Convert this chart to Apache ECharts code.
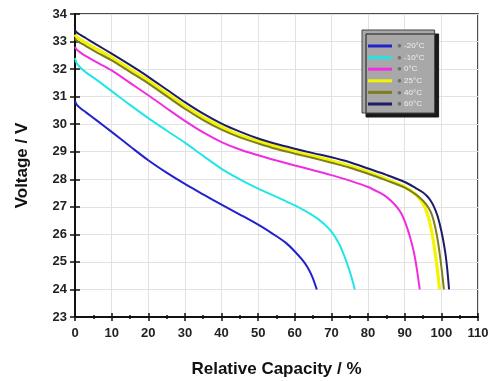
<!DOCTYPE html>
<html><head><meta charset="utf-8">
<script src="https://cdn.jsdelivr.net/npm/echarts@6/dist/echarts.min.js"></script>
<style>html,body{margin:0;padding:0;background:#fff}#c{width:498px;height:381px}</style>
</head><body><div id="c"></div>
<script>
const seriesNames = ['-20°C', '-10°C', '0°C', '25°C', '40°C', '60°C'];
const seriesColors = ['#2222cc', '#22e6e6', '#f02ee0', '#f4f400', '#7e7e1e', '#1c1c6a'];
const xTicks = [0, 10, 20, 30, 40, 50, 60, 70, 80, 90, 100, 110];
const yTicks = [23, 24, 25, 26, 27, 28, 29, 30, 31, 32, 33, 34];

const capM20  = [0, 0.5, 1.5, 3, 6, 10, 15, 20, 25, 30, 35, 40, 45, 50, 54, 57.5, 60, 62, 63.5, 64.8, 66];
const voltM20 = [30.85, 30.7, 30.58, 30.43, 30.13, 29.72, 29.2, 28.69, 28.24, 27.83, 27.45, 27.08, 26.72, 26.35, 26.02, 25.7, 25.38, 25.08, 24.8, 24.45, 24.0];

const capM10  = [0, 0.5, 1.5, 3, 6, 10, 15, 20, 25, 30, 35, 40, 45, 50, 55, 60, 65, 68, 70, 72, 73.5, 75, 76.4];
const voltM10 = [32.4, 32.2, 32.05, 31.88, 31.6, 31.2, 30.7, 30.22, 29.77, 29.33, 28.85, 28.38, 28.0, 27.66, 27.36, 27.05, 26.68, 26.38, 26.1, 25.68, 25.22, 24.65, 24.0];

const cap0  = [0, 0.5, 1.5, 3, 6, 10, 15, 20, 25, 30, 35, 40, 45, 50, 55, 60, 65, 70, 75, 80, 83, 85, 87, 88.5, 89.5, 90.5, 91.5, 92.5, 93.3, 94.1];
const volt0 = [32.8, 32.7, 32.6, 32.47, 32.24, 31.95, 31.5, 31.05, 30.58, 30.12, 29.7, 29.35, 29.08, 28.87, 28.68, 28.5, 28.33, 28.15, 27.95, 27.72, 27.52, 27.36, 27.12, 26.88, 26.64, 26.3, 25.88, 25.35, 24.75, 24.0];

const cap25  = [0, 0.5, 1.5, 3, 6, 10, 15, 20, 25, 30, 35, 40, 45, 50, 55, 60, 65, 70, 75, 80, 85, 90, 93, 94.5, 95.5, 96.5, 97.3, 98, 98.6, 99.1, 99.5];
const volt25 = [33.25, 33.16, 33.07, 32.95, 32.72, 32.42, 32.0, 31.58, 31.12, 30.66, 30.25, 29.9, 29.6, 29.38, 29.18, 29.0, 28.84, 28.67, 28.48, 28.26, 28.0, 27.72, 27.45, 27.22, 26.98, 26.6, 26.15, 25.6, 25.05, 24.5, 24.0];

const cap40  = [0, 0.5, 1.5, 3, 6, 10, 15, 20, 25, 30, 35, 40, 45, 50, 55, 60, 65, 70, 75, 80, 85, 90, 93, 95, 96, 97, 97.8, 98.8, 99.6, 100.2, 100.7];
const volt40 = [33.12, 33.03, 32.95, 32.83, 32.6, 32.32, 31.9, 31.48, 31.02, 30.56, 30.15, 29.8, 29.52, 29.3, 29.1, 28.93, 28.77, 28.6, 28.42, 28.2, 27.96, 27.7, 27.45, 27.22, 27.06, 26.84, 26.55, 25.95, 25.25, 24.6, 24.0];

const cap60  = [0, 0.5, 1.5, 3, 6, 10, 15, 20, 25, 30, 35, 40, 45, 50, 55, 60, 65, 70, 75, 80, 85, 90, 93, 95, 96, 97, 98, 99, 100, 101, 101.6, 102.1];
const volt60 = [33.42, 33.33, 33.24, 33.12, 32.88, 32.56, 32.15, 31.72, 31.26, 30.8, 30.38, 30.02, 29.73, 29.48, 29.28, 29.11, 28.95, 28.8, 28.62, 28.39, 28.16, 27.9, 27.68, 27.52, 27.4, 27.24, 27.0, 26.65, 26.12, 25.4, 24.75, 24.0];

const caps = [capM20, capM10, cap0, cap25, cap40, cap60];
const volts = [voltM20, voltM10, volt0, volt25, volt40, volt60];

function zip(xs, ys) { return xs.map((x, i) => [x, ys[i]]); }

const chart = echarts.init(document.getElementById('c'), null, {renderer: 'canvas'});
const font = 'Liberation Sans, Arial, sans-serif';

const series = seriesNames.map((n, i) => ({
  name: n, type: 'line', data: zip(caps[i], volts[i]),
  smooth: 0.3, showSymbol: false, symbol: 'none',
  lineStyle: {color: seriesColors[i], width: i === 3 ? 3.2 : 2},
  itemStyle: {color: seriesColors[i]},
  z: 3 + i
}));

const axisCommon = {
  axisLine: {show: true, onZero: false, lineStyle: {color: '#111', width: 2}},
  splitLine: {show: true, lineStyle: {color: '#e2e2e2', width: 1}},
};

chart.setOption({
  animation: false,
  backgroundColor: '#fff',
  grid: {left: 75, right: 20, top: 14, bottom: 64, containLabel: false, outerBoundsMode: 'none',
    show: true, borderColor: '#111', borderWidth: 1.5, backgroundColor: 'transparent'},
  legend: {
    orient: 'vertical', left: 362, top: 30,
    data: seriesNames,
    icon: 'rect', itemWidth: 24, itemHeight: 3, itemGap: 3.6,
    backgroundColor: '#a8a8a8', borderColor: '#444', borderWidth: 1,
    shadowColor: '#1a1a1a', shadowOffsetX: 4, shadowOffsetY: 4, shadowBlur: 0,
    padding: [12, 10, 5, 6],
    formatter: n => '{d|●} ' + n,
    textStyle: {color: '#f0f0f0', fontSize: 8, fontFamily: font,
      rich: {d: {color: '#6f6f6f', fontSize: 8}}}
  },
  xAxis: [{
    type: 'value', min: 0, max: 110, interval: 10,
    name: 'Relative Capacity / %', nameLocation: 'middle', nameGap: 44,
    nameTextStyle: {fontSize: 17, fontWeight: 'bold', color: '#111', fontFamily: font},
    ...axisCommon,
    axisTick: {show: true, length: 4, lineStyle: {color: '#111', width: 1.5}},
    minorTick: {show: true, splitNumber: 2, length: 2, lineStyle: {color: '#111', width: 1.5}},
    axisLabel: {show: true, fontSize: 13, fontWeight: 'bold', color: '#222', margin: 10, fontFamily: font,
      formatter: v => xTicks.includes(v) ? String(v) : ''}
  }, {
    type: 'value', min: 0, max: 110, interval: 10, position: 'bottom',
    axisLine: {show: false}, splitLine: {show: false}, axisLabel: {show: false},
    axisTick: {show: true, inside: true, length: 4, lineStyle: {color: '#111', width: 1.5}},
    minorTick: {show: true, splitNumber: 2, length: 2, lineStyle: {color: '#111', width: 1.5}}
  }],
  yAxis: [{
    type: 'value', min: 23, max: 34, interval: 1,
    name: 'Voltage / V', nameLocation: 'middle', nameGap: 44,
    nameTextStyle: {fontSize: 17, fontWeight: 'bold', color: '#111', fontFamily: font},
    ...axisCommon,
    axisTick: {show: true, length: 5, lineStyle: {color: '#111', width: 1.5}},
    axisLabel: {show: true, fontSize: 13, fontWeight: 'bold', color: '#222', margin: 8, fontFamily: font,
      formatter: v => yTicks.includes(v) ? String(v) : ''}
  }, {
    type: 'value', min: 23, max: 34, interval: 1, position: 'left',
    axisLine: {show: false}, splitLine: {show: false}, axisLabel: {show: false},
    axisTick: {show: true, inside: true, length: 5, lineStyle: {color: '#111', width: 1.5}}
  }],
  series: series
});
</script></body></html>
